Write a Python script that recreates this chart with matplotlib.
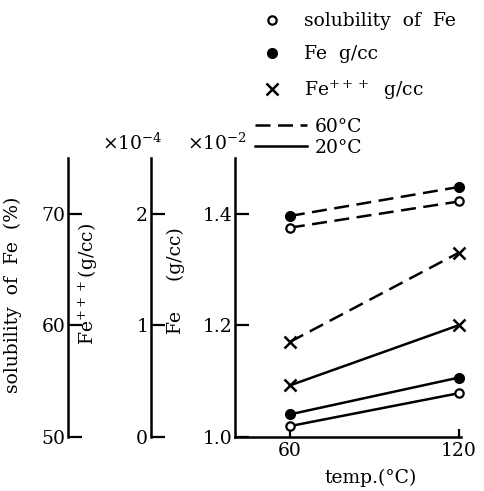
import matplotlib.pyplot as plt
from matplotlib.lines import Line2D

plt.rcParams['font.family'] = 'DejaVu Serif'
plt.rcParams['mathtext.fontset'] = 'dejavuserif'

# reaction temperature (°C)
temps = [60, 120]
# Fe g/cc (x1e-2)
fe_60 = [1.396, 1.448]
fe_20 = [1.040, 1.106]
# solubility of Fe (%)
sol_60 = [68.75, 71.1]
sol_20 = [50.95, 53.9]
# Fe+++ g/cc (x1e-4)
fe3_60 = [0.85, 1.65]
fe3_20 = [0.46, 1.00]

FS = 13.5
LW = 1.8
DASH = (6, 3)

fig = plt.figure(figsize=(4.85, 4.91), dpi=100)
ax = fig.add_axes([0.4845, 0.1106, 0.466, 0.5676])
ax_fe3 = ax.twinx()
ax_sol = ax.twinx()

for a, pos in [(ax_fe3, -0.372), (ax_sol, -0.739)]:
    a.yaxis.set_label_position('left')
    a.yaxis.set_ticks_position('left')
    a.spines['left'].set_position(('axes', pos))
    a.spines['left'].set_visible(True)
    for s in ['right', 'top', 'bottom']:
        a.spines[s].set_visible(False)
for s in ['right', 'top']:
    ax.spines[s].set_visible(False)
for a in (ax, ax_fe3, ax_sol):
    a.spines['left'].set_linewidth(1.8)
    a.tick_params(axis='y', direction='in', length=10, width=1.6, labelsize=FS, pad=2)
ax.spines['bottom'].set_linewidth(1.8)
ax.tick_params(axis='x', direction='in', length=6, width=1.6, labelsize=FS, pad=4)

# Fe g/cc
ax.plot(temps, fe_60, color='black', lw=LW, dashes=DASH, marker='o', ms=7, clip_on=False)
ax.plot(temps, fe_20, color='black', lw=LW, marker='o', ms=7, clip_on=False)
# solubility
ax_sol.plot(temps, sol_60, color='black', lw=LW, dashes=DASH, marker='o', ms=6,
            mfc='white', mew=1.6, clip_on=False)
ax_sol.plot(temps, sol_20, color='black', lw=LW, marker='o', ms=6,
            mfc='white', mew=1.6, clip_on=False)
# Fe+++
ax_fe3.plot(temps, fe3_60, color='black', lw=LW, dashes=DASH, marker='x', ms=8, mew=1.8, clip_on=False)
ax_fe3.plot(temps, fe3_20, color='black', lw=LW, marker='x', ms=8, mew=1.8, clip_on=False)

ax.set_xlim(40.5, 120.8)
ax.set_xticks(temps)
ax.set_ylim(1.0, 1.5)
ax.set_yticks([1.0, 1.2, 1.4])
ax.set_yticklabels(['1.0', '1.2', '1.4'])
ax_fe3.set_ylim(0, 2.5)
ax_fe3.set_yticks([0, 1, 2])
ax_sol.set_ylim(50, 75)
ax_sol.set_yticks([50, 60, 70])

ax.set_xlabel('temp.(°C)', fontsize=FS, va='center')
ax.xaxis.set_label_coords(0.6, -0.148)
ax.set_ylabel('Fe     (g/cc)', fontsize=FS)
ax.yaxis.set_label_coords(-0.221, 0.56)
ax_fe3.set_ylabel('Fe$^{+++}$(g/cc)', fontsize=FS)
ax_fe3.yaxis.set_label_coords(-0.597, 0.55)
ax_sol.set_ylabel('solubility  of  Fe  (%)', fontsize=FS)
ax_sol.yaxis.set_label_coords(-0.942, 0.508)

ax.text(-0.456, 1.054, '×10$^{-4}$', transform=ax.transAxes, ha='center', va='center', fontsize=FS)
ax.text(-0.08, 1.054, '×10$^{-2}$', transform=ax.transAxes, ha='center', va='center', fontsize=FS)

mk_handles = [
    Line2D([], [], ls='none', marker='o', ms=6, mfc='white', mec='black', mew=1.6),
    Line2D([], [], ls='none', marker='o', ms=7, color='black'),
    Line2D([], [], ls='none', marker='x', ms=8, mew=1.8, color='black'),
]
mk_labels = ['solubility  of  Fe', 'Fe  g/cc', 'Fe$^{+++}$  g/cc']
leg1 = fig.legend(mk_handles, mk_labels, loc='upper left', bbox_to_anchor=(0.522, 0.99),
                  frameon=False, fontsize=FS, labelspacing=0.8, handlelength=1.2,
                  handletextpad=1.1, borderaxespad=0)
ln_handles = [
    Line2D([], [], color='black', lw=LW, dashes=DASH),
    Line2D([], [], color='black', lw=LW),
]
leg2 = fig.legend(ln_handles, ['60°C', '20°C'], loc='upper left', bbox_to_anchor=(0.51, 0.775),
                  frameon=False, fontsize=FS, labelspacing=0.15, handlelength=2.8,
                  handletextpad=0.4, borderaxespad=0)

fig.savefig('out.png', dpi=100)
